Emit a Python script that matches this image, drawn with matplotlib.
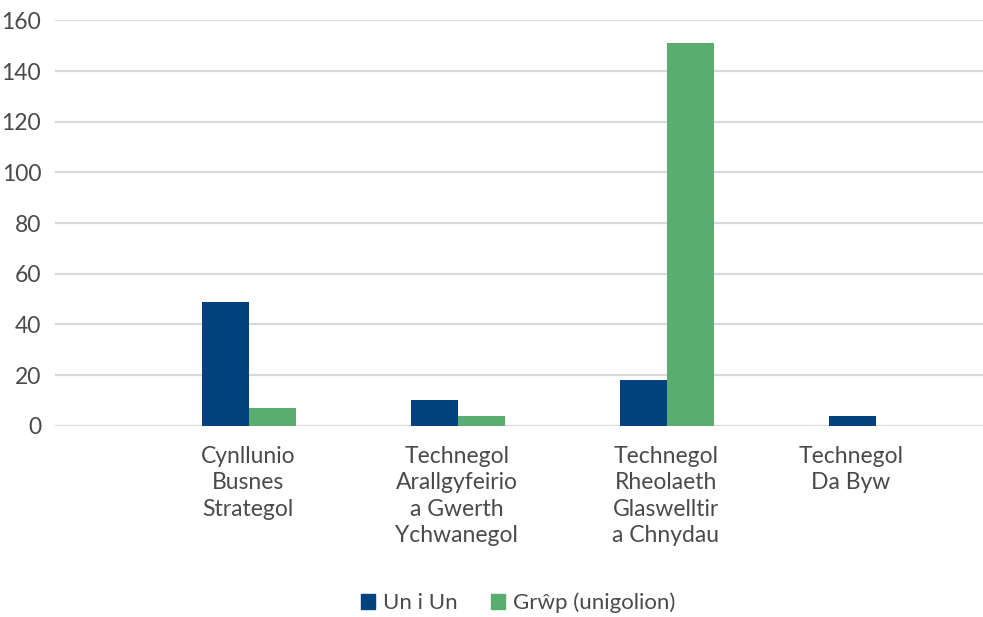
import numpy as np
import matplotlib
matplotlib.use("Agg")
import matplotlib.pyplot as plt
from matplotlib.patches import Patch
from matplotlib.transforms import offset_copy

# ── Data ─────────────────────────────────────────────────────────────────────
categories = [
    "Cynllunio\nBusnes\nStrategol",
    "Technegol\nArallgyfeirio\na Gwerth\nYchwanegol",
    "Technegol\nRheolaeth\nGlaswelltir\na Chnydau",
    "Technegol\nDa Byw",
]
un_i_un = [49, 10, 18, 4]
grwp    = [7, 4, 151, 0]
series_names = ["Un i Un", "Grŵp (unigolion)"]
y_ticks = [0, 20, 40, 60, 80, 100, 120, 140, 160]

# ── Style ────────────────────────────────────────────────────────────────────
BLUE  = "#03417F"
GREEN = "#5BAD6F"
GRID  = "#D9D9D9"
TEXT  = "#4A4A4A"
plt.rcParams["font.family"] = ["Lato", "DejaVu Sans"]

fig = plt.figure(figsize=(9.83, 6.17), dpi=100)
ax = fig.add_axes([0.056, 0.31, 0.944, 0.657])

x = np.arange(len(categories))
w = 0.225
ax.bar(x - w / 2 + 0.006, un_i_un, w, color=BLUE, zorder=3)
ax.bar(x + w / 2 + 0.006, grwp, w, color=GREEN, zorder=3)

ax.set_ylim(0, 160)
ax.set_xlim(-0.925, 3.52)
ax.set_yticks(y_ticks)
ax.set_yticklabels([str(v) for v in y_ticks], fontsize=16.5, color=TEXT)
ax.tick_params(axis="y", length=0, pad=10)
ax.set_xticks([])
ax.grid(axis="y", color=GRID, linewidth=1.6, zorder=0)
for s in ax.spines.values():
    s.set_visible(False)

# category labels (last one sits a little left of its group, as in the source)
label_shift = [0, 0, 0, -17]
for xi, lab, dx in zip(x, categories, label_shift):
    tr = offset_copy(ax.get_xaxis_transform(), fig=fig, x=dx, y=0, units="points")
    ax.text(xi, -0.05, lab, transform=tr, ha="center", va="top",
            fontsize=16.5, color=TEXT, linespacing=1.32)

handles = [Patch(color=BLUE), Patch(color=GREEN)]
fig.legend(handles, series_names, loc="center", bbox_to_anchor=(0.527, 0.023),
           ncol=2, frameon=False, fontsize=16, labelcolor=TEXT,
           handlelength=0.65, handleheight=0.65, handletextpad=0.35, columnspacing=1.5)

fig.savefig("out.png", dpi=100)
